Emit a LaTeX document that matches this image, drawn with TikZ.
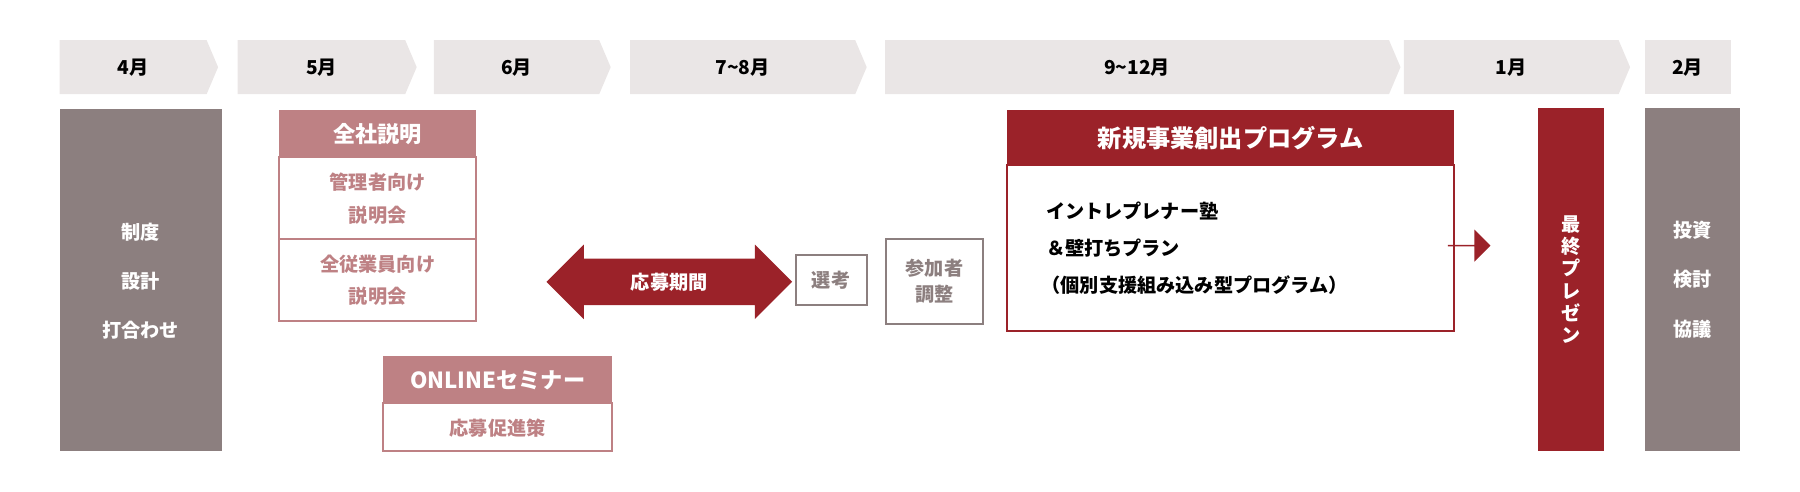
\documentclass[tikz,border=0pt]{standalone}
\usepackage{fontspec}
\setmainfont{Noto Sans CJK JP}
\usetikzlibrary{shapes.arrows}
\definecolor{chev}{HTML}{EAE6E6}
\definecolor{stone}{HTML}{8C7F7F}
\definecolor{rose}{HTML}{BE8184}
\definecolor{wine}{HTML}{9B2229}

\begin{document}
\begin{tikzpicture}[x=0.02cm, y=-0.02cm, font=\bfseries\fontsize{9.5}{11}\selectfont,
    month/.style ={fill=chev},
    block/.style ={draw=#1, line width=1pt, fill=white},
    pillar/.style ={fill=#1, text=white, align=center},
    txt/.style ={align=center, inner sep=0pt}]
   \useasboundingbox (0,0) rectangle (1568,428);
   % month chevrons
   \foreach \a/\b/\t in {52/190/4月, 207/363/5月, 378/532/6月, 549/755/7\textasciitilde8月, 771/1220/9\textasciitilde12月, 1223/1420/1月}
     {\fill[month] (\a,35) -- (\b-10,35) -- (\b,58.5) -- (\b-10,82) -- (\a,82) -- cycle;
      \node[txt] at ({(\a+\b-10)/2},58.5) {\t};}
   \fill[month] (1433,35) rectangle (1508,82);
   \node[txt] (feb) at (1470,58.5) {2月};
   % side pillars
   \node[pillar=stone, minimum width=2.82cm, minimum height=5.96cm] (plan) at (122.5,244) {};
   \node[txt, text=white, text depth=0pt] at (plan) {制度\\[2.6ex] 設計\\[2.6ex] 打合わせ};
   \node[pillar=wine, minimum width=1.14cm, minimum height=5.98cm] (final) at (1368.5,243.5) {};
   \node[txt, text=white] at (final) {最\\終\\プ\\レ\\ゼ\\ン};
   \node[pillar=stone, minimum width=1.66cm, minimum height=5.98cm] (invest) at (1474.5,243.5) {};
   \node[txt, text=white] at (invest) {投資\\[2.6ex] 検討\\[2.6ex] 協議};
   % company briefing
   \draw[block=rose] (243,137) rectangle (415,280);
   \draw[rose, line width=1pt] (243,208) -- (415,208);
   \fill[rose] (243,96) rectangle (415,137);
   \node[txt, text=white] (brief) at (329,117) {\fontsize{11}{13}\selectfont 全社説明};
   \node[txt, text=rose] (mgr) at (329,173) {管理者向け\\[1ex] 説明会};
   \node[txt, text=rose] (all) at (329,244) {全従業員向け\\[1ex] 説明会};
   % online seminar
   \draw[block=rose] (334,351) rectangle (533,393);
   \fill[rose] (334,310) rectangle (533,351);
   \node[txt, text=white] (online) at (433.5,331) {\fontsize{11}{13}\selectfont ONLINEセミナー};
   \node[txt, text=rose] (promo) at (433.5,373) {応募促進策};
   % application period
   \node[double arrow, fill=wine, text=white, minimum height=4.28cm, minimum width=1.3cm,
     double arrow head extend=0.1cm, inner sep=0pt] (apply) at (583,245.5) {応募期間};
   \node[draw=stone, line width=1pt, text=stone, minimum width=1.24cm, minimum height=0.88cm] (select) at (724,244) {選考};
   \node[draw=stone, line width=1pt, text=stone, align=center, minimum width=1.68cm, minimum height=1.48cm] (adjust) at (814,245) {参加者\\[0.4ex]調整};
   % program
   \draw[block=wine] (877,144) rectangle (1267,288);
   \fill[wine] (877,96) rectangle (1267,144);
   \node[txt, text=white] (prog) at (1072,120) {\fontsize{12}{14}\selectfont 新規事業創出プログラム};
   \node[txt, align=left, anchor=west] (school) at (907,216) {\ イントレプレナー塾\\[1.4ex] \ ＆壁打ちプラン\\[1.4ex] （個別支援組み込み型プログラム）};
   \node[single arrow, fill=wine, minimum height=0.74cm, minimum width=0.56cm,
     single arrow head extend=0.14cm, inner sep=0pt] (next) at (1279.5,214) {};
 \end{tikzpicture}
\end{document}
